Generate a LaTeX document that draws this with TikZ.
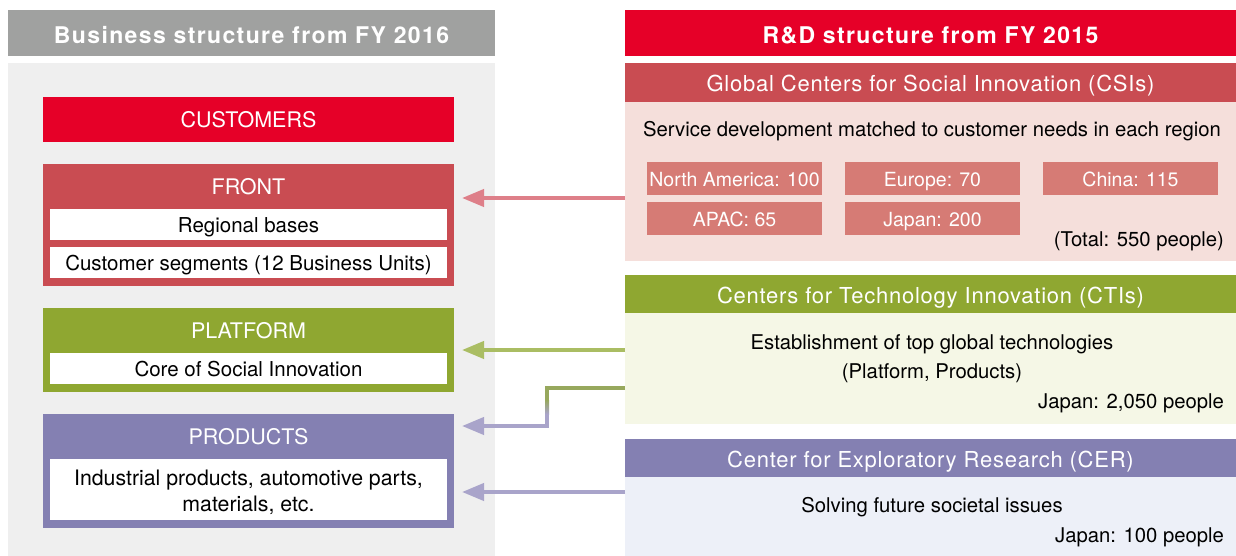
\documentclass[tikz,border=0pt]{standalone}
\usepackage{fontspec}
\setmainfont{TeX Gyre Heros}
\newfontfamily\spacedfont[LetterSpace=6]{TeX Gyre Heros}
\newfontfamily\widefont[LetterSpace=3.5]{TeX Gyre Heros}
\usetikzlibrary{arrows.meta,positioning}

\definecolor{hitred}{HTML}{E60028}
\definecolor{hitgray}{HTML}{A0A1A0}
\definecolor{panelgray}{HTML}{EFEFEF}
\definecolor{frontred}{HTML}{C94C52}
\definecolor{frontbg}{HTML}{F5DFDB}
\definecolor{regionred}{HTML}{D67B75}
\definecolor{platgreen}{HTML}{8FA731}
\definecolor{platbg}{HTML}{F5F7E6}
\definecolor{prodblue}{HTML}{8480B2}
\definecolor{prodbg}{HTML}{EDF0F8}
\definecolor{frontarrow}{HTML}{DE7F89}
\definecolor{platarrow}{HTML}{AABD63}
\definecolor{platarrowdark}{HTML}{97A85D}
\definecolor{prodarrow}{HTML}{A9A4CA}

\begin{document}
\begin{tikzpicture}[x=1pt,y=-1pt,
  every node/.style={inner sep=0pt, outer sep=0pt},
  block/.style={rectangle, anchor=north west, fill=#1},
  head/.style={block=#1, text=white, font=\spacedfont\bfseries\fontsize{23}{26}\selectfont, text height=20.5pt, text depth=0pt},
  band/.style={block=#1, text=white, font=\widefont\fontsize{22}{26}\selectfont, text height=18pt, text depth=0pt},
  title/.style={text=white, font=\fontsize{21.5}{26}\selectfont, text height=15pt, text depth=0pt},
  entry/.style={block=white, font=\fontsize{20.5}{27}\selectfont, text height=16.5pt, text depth=0pt, minimum width=397pt},
  region/.style={block=regionred, text=white, font=\fontsize{19.5}{24}\selectfont, minimum width=175pt, minimum height=33pt, text height=16pt, text depth=0pt},
  note/.style={font=\fontsize{20.3}{29}\selectfont, anchor=base, align=center},
  link/.style={line width=4pt, draw=#1, -{Triangle[length=22pt,width=17pt]}},
]
\useasboundingbox (0,0) rectangle (1236,556);

\node[head=hitgray, minimum width=487pt, minimum height=46pt] (bizhead) at (8,10) {Business structure from FY 2016};
\node[block=panelgray, minimum width=487pt, minimum height=493pt] (bizpanel) at (8,63) {};
\node[block=hitred, text=white, font=\fontsize{21.5}{26}\selectfont, text height=16pt, text depth=0pt,
  minimum width=411pt, minimum height=45pt] (customers) at (43,97) {CUSTOMERS};

\node[block=frontred, minimum width=411pt, minimum height=122pt] (front) at (43,164) {};
\node[title] (fronttitle) at (248.5,186.5) {FRONT};
\node[entry, minimum height=31pt] (regional) at (50,209) {Regional bases};
\node[entry, minimum height=31pt] (segments) at (50,247) {Customer segments (12 Business Units)};

\node[block=platgreen, minimum width=411pt, minimum height=84pt] (platform) at (43,308) {};
\node[title] (plattitle) at (248.5,330.5) {PLATFORM};
\node[entry, minimum height=31pt] (core) at (50,353) {Core of Social Innovation};

\node[block=prodblue, minimum width=411pt, minimum height=114pt] (products) at (43,414) {};
\node[title] (prodtitle) at (248.5,436.5) {PRODUCTS};
\node[entry, minimum height=61pt, align=center, text height=44.5pt, font=\fontsize{21.3}{26.7}\selectfont] (prodlist) at (50,459)
  {Industrial products, automotive parts,\\materials, etc.};

\node[head=hitred, minimum width=611pt, minimum height=46pt] (rdhead) at (625,10) {R\&D structure from FY 2015};

\node[band=frontred, minimum width=611pt, minimum height=39pt] (csihead) at (625,63) {Global Centers for Social Innovation (CSIs)};
\node[block=frontbg, minimum width=611pt, minimum height=159pt] (csibody) at (625,102) {};
\node[note] (csitext) at (932,137) {Service development matched to customer needs in each region};
\foreach \n/\lbl/\x/\y in {na/North America: 100/647/162, eu/Europe: 70/845/162, cn/China: 115/1043/162,
  apac/APAC: 65/647/202, jp/Japan: 200/845/202}
  \node[region] (\n) at (\x,\y) {\lbl};
\node[note, anchor=base east] (csitotal) at (1224,246.5) {(Total: 550 people)};

\node[band=platgreen, minimum width=611pt, minimum height=38pt] (ctihead) at (625,275) {Centers for Technology Innovation (CTIs)};
\node[block=platbg, minimum width=611pt, minimum height=111pt] (ctibody) at (625,313) {};
\node[note] (ctitext) at (932,378) {Establishment of top global technologies\\(Platform, Products)};
\node[note, anchor=base east] (ctistaff) at (1224,408) {Japan: 2,050 people};

\node[band=prodblue, minimum width=611pt, minimum height=38pt] (cerhead) at (625,439) {Center for Exploratory Research (CER)};
\node[block=prodbg, minimum width=611pt, minimum height=79pt] (cerbody) at (625,477) {};
\node[note] (certext) at (932,512) {Solving future societal issues};
\node[note, anchor=base east] (cerstaff) at (1224,542) {Japan: 100 people};

\draw[link=frontarrow] (csibody.west |- 0,198) -- ([xshift=8pt]front.east |- 0,198);
\draw[link=platarrow] (ctibody.west |- 0,350) -- ([xshift=8pt]platform.east |- 0,350);
\draw[line width=4pt, draw=platarrowdark] (ctibody.west |- 0,388) -| (547,400);
\shade[top color=platarrowdark, bottom color=prodarrow] (545,400) rectangle (549,414);
\draw[link=prodarrow] (547,414) |- ([xshift=8pt]products.east |- 0,426);
\draw[link=prodarrow] (cerbody.west |- 0,492) -- ([xshift=8pt]products.east |- 0,492);
\end{tikzpicture}
\end{document}
